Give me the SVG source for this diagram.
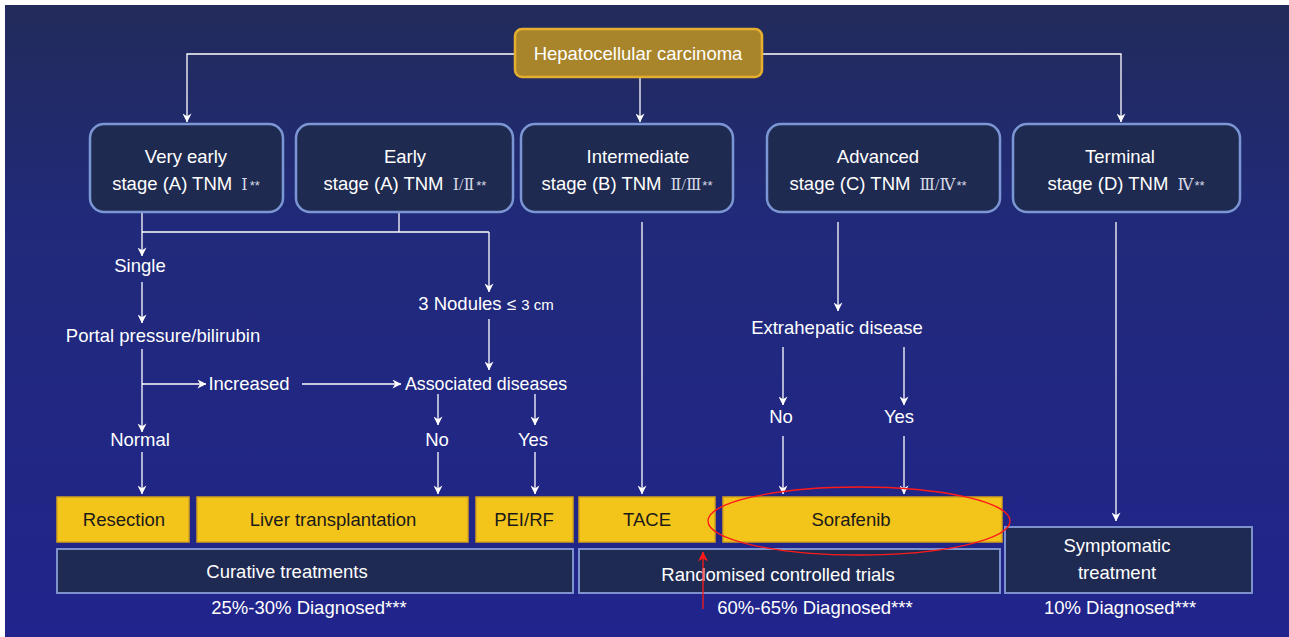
<svg xmlns="http://www.w3.org/2000/svg" width="1289" height="637" viewBox="0 0 1289 637">
<defs>
<linearGradient id="bg" x1="0" y1="0" x2="0" y2="1">
<stop offset="0" stop-color="#222b5a"/>
<stop offset="0.35" stop-color="#212a7a"/>
<stop offset="1" stop-color="#21248c"/>
</linearGradient>
<marker id="ah" viewBox="0 0 10 10" refX="9.5" refY="5" markerWidth="9" markerHeight="9" markerUnits="userSpaceOnUse" orient="auto">
<path d="M0,0 L10,5 L0,10 L3,5 Z" fill="#ffffff"/>
</marker>
<marker id="ahr" viewBox="0 0 10 10" refX="9.5" refY="5" markerWidth="10" markerHeight="10" markerUnits="userSpaceOnUse" orient="auto">
<path d="M0,0 L10,5 L0,10 L3,5 Z" fill="#ff1a1a"/>
</marker>
<style>
text{font-family:"Liberation Sans",Arial,sans-serif;font-size:18.5px;fill:#ffffff;text-anchor:middle}
.stage{fill:#1f2a50;stroke:#7b96d4;stroke-width:2.5}
.gold{fill:#f3c41a;stroke:#d4a21e;stroke-width:1.5}
.gold-t{fill:#1a1a1a}
.dark{fill:#1f2a52;stroke:#7d92cc;stroke-width:2}
.rn{font-family:"Liberation Serif","DejaVu Serif",serif;font-size:16px;fill:#d6d8e6}
.st{font-size:13px;fill:#d6d8e6}
.c{fill:none;stroke:#ffffff;stroke-width:1.3}
.ca{fill:none;stroke:#ffffff;stroke-width:1.3;marker-end:url(#ah)}
</style>
</defs>
<rect x="0" y="0" width="1289" height="637" fill="#ffffff"/>
<rect x="5" y="5" width="1284" height="632" fill="url(#bg)"/>

<g id="connectors">
<polyline class="ca" points="515,54 187,54 187,122"/>
<polyline class="ca" points="762,54 1121,54 1121,122"/>
<line class="ca" x1="640" y1="78" x2="640" y2="122"/>
<line class="c" x1="399" y1="212" x2="399" y2="232"/>
<line class="c" x1="142" y1="232" x2="489" y2="232"/>
<line class="ca" x1="142" y1="212" x2="142" y2="256"/>
<line class="ca" x1="489" y1="232" x2="489" y2="292"/>
<line class="ca" x1="142" y1="282" x2="142" y2="323"/>
<line class="ca" x1="142" y1="349" x2="142" y2="432"/>
<line class="ca" x1="142" y1="384" x2="206" y2="384"/>
<line class="ca" x1="302" y1="384" x2="401" y2="384"/>
<line class="ca" x1="489" y1="319" x2="489" y2="370"/>
<line class="ca" x1="438" y1="394" x2="438" y2="425"/>
<line class="ca" x1="535" y1="394" x2="535" y2="425"/>
<line class="ca" x1="142" y1="452" x2="142" y2="494"/>
<line class="ca" x1="438" y1="452" x2="438" y2="494"/>
<line class="ca" x1="535" y1="452" x2="535" y2="494"/>
<line class="ca" x1="642" y1="222" x2="642" y2="494"/>
<line class="ca" x1="838" y1="222" x2="838" y2="311"/>
<line class="ca" x1="783" y1="347" x2="783" y2="405"/>
<line class="ca" x1="904" y1="347" x2="904" y2="405"/>
<line class="ca" x1="783" y1="436" x2="783" y2="494"/>
<line class="ca" x1="904" y1="436" x2="904" y2="494"/>
<line class="ca" x1="1116" y1="222" x2="1116" y2="521"/>
</g>

<g id="hcc">
<rect x="515" y="29" width="247" height="48" rx="7" fill="#a8842a" stroke="#e6ae2e" stroke-width="2.5"/>
<text x="638" y="60">Hepatocellular carcinoma</text>
</g>

<g id="very-early">
<rect class="stage" x="90" y="124" width="193" height="88" rx="14"/>
<text x="186" y="163">Very early</text>
<text x="186" y="190">stage (A) TNM <tspan class="rn" dx="4">Ⅰ</tspan><tspan class="st" dx="2">**</tspan></text>
</g>
<g id="early">
<rect class="stage" x="296" y="124" width="217" height="88" rx="14"/>
<text x="405" y="163">Early</text>
<text x="405" y="190">stage (A) TNM <tspan class="rn" dx="4">Ⅰ/Ⅱ</tspan><tspan class="st" dx="2">**</tspan></text>
</g>
<g id="intermediate">
<rect class="stage" x="521" y="124" width="212" height="88" rx="14"/>
<text x="638" y="163">Intermediate</text>
<text x="627" y="190">stage (B) TNM <tspan class="rn" dx="4">Ⅱ/Ⅲ</tspan><tspan class="st" dx="1">**</tspan></text>
</g>
<g id="advanced">
<rect class="stage" x="767" y="124" width="233" height="88" rx="14"/>
<text x="878" y="163">Advanced</text>
<text x="878" y="190">stage (C) TNM <tspan class="rn" dx="4">Ⅲ/Ⅳ</tspan><tspan class="st" dx="1">**</tspan></text>
</g>
<g id="terminal">
<rect class="stage" x="1013" y="124" width="227" height="88" rx="14"/>
<text x="1120" y="163">Terminal</text>
<text x="1126" y="190">stage (D) TNM <tspan class="rn" dx="4">Ⅳ</tspan><tspan class="st" dx="1">**</tspan></text>
</g>

<g id="single"><text x="140" y="272">Single</text></g>
<g id="portal"><text x="163" y="342">Portal pressure/bilirubin</text></g>
<g id="normal"><text x="140" y="446">Normal</text></g>
<g id="increased"><text x="249" y="390">Increased</text></g>
<g id="nodules"><text x="486" y="310">3 Nodules <tspan font-size="17">≤</tspan> <tspan font-size="15">3 cm</tspan></text></g>
<g id="associated"><text x="486" y="390" style="font-size:17.8px">Associated diseases</text></g>
<g id="assoc-no"><text x="437" y="446">No</text></g>
<g id="assoc-yes"><text x="533" y="446">Yes</text></g>
<g id="extrahepatic"><text x="837" y="334">Extrahepatic disease</text></g>
<g id="extra-no"><text x="781" y="423">No</text></g>
<g id="extra-yes"><text x="899" y="423">Yes</text></g>

<g id="resection"><rect class="gold" x="57" y="497" width="132" height="45"/><text class="gold-t" x="124" y="526">Resection</text></g>
<g id="liver-transplantation"><rect class="gold" x="197" y="497" width="271" height="45"/><text class="gold-t" x="333" y="526">Liver transplantation</text></g>
<g id="pei-rf"><rect class="gold" x="476" y="497" width="97" height="45"/><text class="gold-t" x="524" y="526">PEI/RF</text></g>
<g id="tace"><rect class="gold" x="579" y="497" width="136" height="45"/><text class="gold-t" x="647" y="526">TACE</text></g>
<g id="sorafenib"><rect class="gold" x="723" y="497" width="279" height="45"/><text class="gold-t" x="851" y="526">Sorafenib</text></g>

<g id="curative"><rect class="dark" x="57" y="549" width="516" height="44"/><text x="287" y="578">Curative treatments</text></g>
<g id="rct"><rect class="dark" x="579" y="549" width="421" height="44"/><text x="778" y="581">Randomised controlled trials</text></g>
<g id="symptomatic"><rect class="dark" x="1005" y="527" width="247" height="66"/><text x="1117" y="552">Symptomatic</text><text x="1117" y="579">treatment</text></g>

<g id="diag1"><text x="309" y="614">25%-30% Diagnosed***</text></g>
<g id="diag2"><text x="815" y="614">60%-65% Diagnosed***</text></g>
<g id="diag3"><text x="1120" y="614">10% Diagnosed***</text></g>

<g id="highlight">
<ellipse cx="859" cy="521" rx="151" ry="34" fill="none" stroke="#ff1a1a" stroke-width="1.3"/>
<line x1="703" y1="609" x2="703" y2="552" stroke="#ff1a1a" stroke-width="1.3" marker-end="url(#ahr)"/>
</g>
</svg>
